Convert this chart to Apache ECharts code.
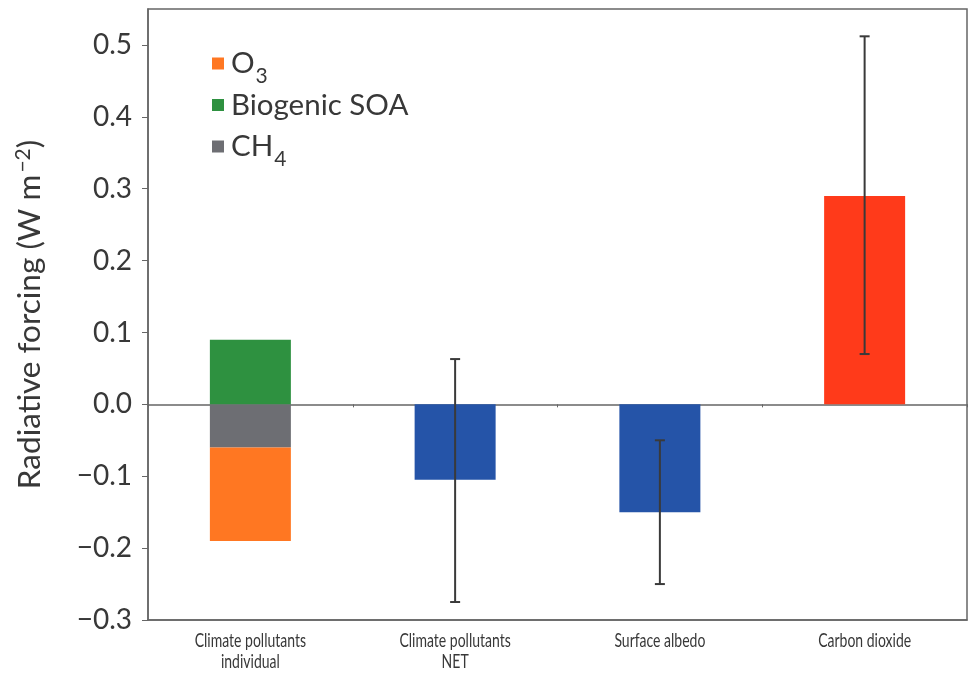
<!DOCTYPE html>
<html><head><meta charset="utf-8">
<script src="https://cdn.jsdelivr.net/npm/echarts@6/dist/echarts.min.js"></script>
<style>html,body{margin:0;padding:0;background:#fff}#c{width:970px;height:674px}</style>
</head><body><div id="c"></div>
<script>
const categories = ['Climate pollutants\nindividual', 'Climate pollutants\nNET', 'Surface albedo', 'Carbon dioxide'];
const ch4 = [-0.06, null, null, null];
const o3 = [-0.13, null, null, null];
const biogenicSOA = [0.09, null, null, null];
const totals = [null, -0.105, -0.15, 0.29];
const totalColors = ['#2554a8', '#2554a8', '#2554a8', '#ff3a1a'];
const errLow = [null, -0.275, -0.25, 0.07];
const errHigh = [null, 0.063, -0.05, 0.512];
const yTicks = { min: -0.3, max: 0.55, interval: 0.1 };

const errData = [];
for (let i = 0; i < categories.length; i++) {
  if (errLow[i] !== null) errData.push([i, errLow[i], errHigh[i]]);
}
const labelData = categories.map((c, i) => [i]);
const font = 'Lato, "Open Sans", sans-serif';
const txt = '#383838';
const chart = echarts.init(document.getElementById('c'));
chart.setOption({
  animation: false,
  grid: { left: 148, top: 9, right: 3, bottom: 54, show: true, borderColor: '#666', borderWidth: 1.5 },
  legend: {
    data: ['O3', 'Biogenic SOA', 'CH4'],
    orient: 'vertical', left: 207, top: 35, itemGap: 3,
    icon: 'rect', itemWidth: 12, itemHeight: 12,
    formatter: function (n) {
      if (n === 'O3') return '{a|O}{s|3}';
      if (n === 'CH4') return '{a|CH}{s|4}';
      return '{a|' + n + '}';
    },
    textStyle: {
      fontFamily: font, color: txt,
      rich: {
        a: { fontSize: 29.5, fontFamily: font, color: txt, lineHeight: 32, padding: [0, 0, 0, 2] },
        s: { fontSize: 21, fontFamily: font, color: txt, lineHeight: 21, padding: [26, 0, 0, 1] }
      }
    }
  },
  xAxis: [{
    type: 'category', data: categories, position: 'bottom',
    axisLine: { onZero: false, lineStyle: { color: '#666', width: 1.5 } },
    axisTick: { show: false },
    axisLabel: { show: false }
  }, {
    type: 'category', data: categories, position: 'bottom',
    axisLine: { onZero: true, lineStyle: { color: '#666', width: 1.5 } },
    axisTick: { show: true, length: 3, lineStyle: { color: '#666' } },
    axisLabel: { show: false }
  }],
  yAxis: {
    type: 'value', min: yTicks.min, max: yTicks.max, interval: yTicks.interval,
    name: 'Radiative forcing (W m{sup|−2})', nameLocation: 'middle', nameGap: 102,
    nameTextStyle: { fontFamily: font, fontSize: 31.5, color: txt,
      rich: { sup: { fontSize: 21, fontFamily: font, color: txt, lineHeight: 21, padding: [0, 0, 14, 2] } } },
    axisLine: { show: true, lineStyle: { color: '#666', width: 1.5 } },
    axisTick: { show: true, length: 6, lineStyle: { color: '#666' } },
    splitLine: { show: false },
    axisLabel: {
      fontFamily: font, fontSize: 28, color: txt, margin: 16, showMaxLabel: false,
      formatter: function (v) { const s = Math.abs(v).toFixed(1); return (v < -1e-9 ? '−' : '') + s; }
    }
  },
  series: [
    { name: 'CH4', type: 'bar', stack: 'a', data: ch4, barWidth: 81, itemStyle: { color: '#6d6e73' } },
    { name: 'O3', type: 'bar', stack: 'a', data: o3, barWidth: 81, itemStyle: { color: '#ff7722' } },
    { name: 'Biogenic SOA', type: 'bar', stack: 'a', data: biogenicSOA, barWidth: 81, itemStyle: { color: '#2e9140' } },
    { name: 'Total', type: 'bar', stack: 'a', barWidth: 81,
      data: totals.map((v, i) => ({ value: v, itemStyle: { color: totalColors[i] } })) },
    { name: 'err', type: 'custom', z: 10, data: errData,
      renderItem: function (params, api) {
        const x = api.value(0);
        const lo = api.coord([x, api.value(1)]);
        const hi = api.coord([x, api.value(2)]);
        const hw = 5;
        const st = { stroke: '#3a3a3a', lineWidth: 2 };
        return { type: 'group', children: [
          { type: 'line', shape: { x1: lo[0], y1: lo[1], x2: hi[0], y2: hi[1] }, style: st },
          { type: 'line', shape: { x1: lo[0] - hw, y1: lo[1], x2: lo[0] + hw, y2: lo[1] }, style: st },
          { type: 'line', shape: { x1: hi[0] - hw, y1: hi[1], x2: hi[0] + hw, y2: hi[1] }, style: st }
        ] };
      }
    },
    { name: 'xlabels', type: 'custom', data: labelData, silent: true,
      renderItem: function (params, api) {
        const idx = api.value(0);
        const p = api.coord([idx, yTicks.min]);
        return { type: 'text', x: p[0], y: p[1] + 10, scaleX: 0.7,
          style: { text: categories[idx], fontFamily: font, fontSize: 20, fill: txt,
            align: 'center', verticalAlign: 'top', lineHeight: 21 } };
      }
    }
  ]
});
</script></body></html>
